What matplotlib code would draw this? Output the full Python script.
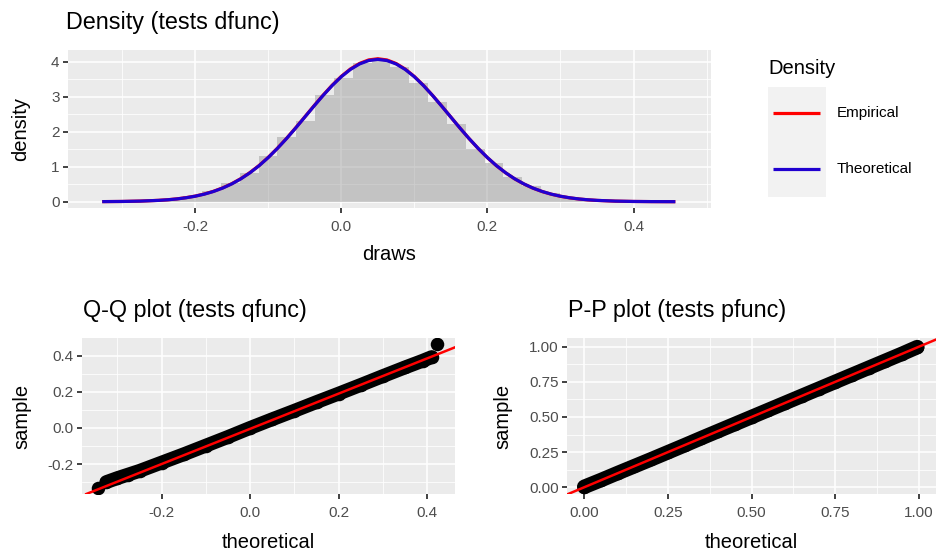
"""
Tres paneles de diagnóstico al estilo ggplot: densidad, Q-Q y P-P.
"""

import matplotlib
matplotlib.use("Agg")
import matplotlib.pyplot as plt

plt.rcParams['font.family'] = ['Liberation Sans', 'DejaVu Sans']

W, H = 938, 556

# --- Datos ---
# histograma: bordes de clase y alturas
hist_bordes = [-0.320, -0.294, -0.268, -0.243, -0.217, -0.191, -0.165, -0.139,
               -0.113, -0.088, -0.062, -0.036, -0.010, 0.016, 0.042, 0.067,
               0.093, 0.119, 0.145, 0.171, 0.197, 0.222, 0.248, 0.274,
               0.300, 0.326, 0.352, 0.377, 0.403, 0.429, 0.455]
hist_densidad = [0.01, 0.02, 0.04, 0.08, 0.17, 0.30, 0.53, 0.82,
                 1.30, 1.86, 2.30, 3.05, 3.55, 3.98, 4.02, 3.85,
                 3.40, 2.85, 2.22, 1.50, 1.12, 0.72, 0.44, 0.24,
                 0.13, 0.06, 0.03, 0.012, 0.005, 0.002]

# curvas de densidad
dens_x = [-0.325, -0.300, -0.275, -0.250, -0.2375, -0.225, -0.2125, -0.200,
          -0.1875, -0.175, -0.1625, -0.150, -0.1375, -0.125, -0.1125, -0.100,
          -0.0875, -0.075, -0.0625, -0.050, -0.0375, -0.025, -0.0125, 0.000,
          0.0125, 0.025, 0.0375, 0.050, 0.0625, 0.075, 0.0875, 0.100,
          0.1125, 0.125, 0.1375, 0.150, 0.1625, 0.175, 0.1875, 0.200,
          0.2125, 0.225, 0.2375, 0.250, 0.2625, 0.275, 0.2875, 0.300,
          0.3125, 0.325, 0.3375, 0.350, 0.375, 0.400, 0.425, 0.455]
dens_teorica = [0.003, 0.007, 0.017, 0.038, 0.055, 0.079, 0.113, 0.157,
                0.216, 0.292, 0.388, 0.508, 0.653, 0.827, 1.029, 1.262,
                1.522, 1.804, 2.106, 2.419, 2.732, 3.037, 3.322, 3.575,
                3.784, 3.941, 4.038, 4.071, 4.038, 3.941, 3.784, 3.575,
                3.322, 3.037, 2.732, 2.419, 2.106, 1.804, 1.522, 1.262,
                1.029, 0.827, 0.653, 0.508, 0.388, 0.292, 0.216, 0.157,
                0.113, 0.079, 0.055, 0.038, 0.017, 0.007, 0.003, 0.001]
dens_empirica = [0.003, 0.007, 0.018, 0.039, 0.056, 0.081, 0.116, 0.160,
                 0.220, 0.297, 0.394, 0.514, 0.660, 0.834, 1.036, 1.268,
                 1.528, 1.810, 2.112, 2.425, 2.740, 3.046, 3.332, 3.586,
                 3.797, 3.956, 4.056, 4.090, 4.055, 3.954, 3.794, 3.582,
                 3.327, 3.040, 2.734, 2.420, 2.106, 1.803, 1.520, 1.260,
                 1.027, 0.825, 0.651, 0.506, 0.386, 0.290, 0.214, 0.155,
                 0.111, 0.078, 0.054, 0.037, 0.016, 0.007, 0.003, 0.001]

# Q-Q
qq_teorico = [-0.343, -0.325, -0.300, -0.275, -0.250, -0.200, -0.150, -0.100,
              -0.050, 0.000, 0.050, 0.100, 0.150, 0.200, 0.250, 0.300,
              0.350, 0.390, 0.410, 0.423]
qq_muestra = [-0.334, -0.300, -0.278, -0.258, -0.238, -0.192, -0.146, -0.098,
              -0.050, 0.000, 0.048, 0.095, 0.143, 0.190, 0.238, 0.287,
              0.335, 0.372, 0.392, 0.464]
qq_pendiente, qq_intercepto = 0.975, -0.005

# P-P
pp_teorico = [0.000, 0.050, 0.100, 0.150, 0.200, 0.250, 0.300, 0.350, 0.400,
              0.450, 0.500, 0.550, 0.600, 0.650, 0.700, 0.750, 0.800, 0.850,
              0.900, 0.950, 0.995]
pp_muestra = [0.003, 0.051, 0.101, 0.150, 0.199, 0.249, 0.299, 0.350, 0.400,
              0.450, 0.500, 0.550, 0.600, 0.650, 0.700, 0.750, 0.800, 0.850,
              0.900, 0.950, 0.997]

# ejes y etiquetas
top_xt, top_xt_lbl = [-0.2, 0.0, 0.2, 0.4], ['-0.2', '0.0', '0.2', '0.4']
top_yt, top_yt_lbl = [0, 1, 2, 3, 4], ['0', '1', '2', '3', '4']
qq_xt, qq_xt_lbl = [-0.2, 0.0, 0.2, 0.4], ['-0.2', '0.0', '0.2', '0.4']
qq_yt, qq_yt_lbl = [-0.2, 0.0, 0.2, 0.4], ['-0.2', '0.0', '0.2', '0.4']
pp_t = [0.0, 0.25, 0.5, 0.75, 1.0]
pp_t_lbl = ['0.00', '0.25', '0.50', '0.75', '1.00']


def estilo_gg(ax, xt, xt_lbl, yt, yt_lbl, xlim, ylim):
    ax.set_facecolor('#EBEBEB')
    ax.set_xticks(xt)
    ax.set_xticklabels(xt_lbl)
    ax.set_yticks(yt)
    ax.set_yticklabels(yt_lbl)
    # menores a medio camino entre mayores
    paso_x = xt[1] - xt[0]
    paso_y = yt[1] - yt[0]
    ax.set_xticks([v - paso_x / 2 for v in xt] + [xt[-1] + paso_x / 2], minor=True)
    ax.set_yticks([v - paso_y / 2 for v in yt] + [yt[-1] + paso_y / 2], minor=True)
    ax.set_xlim(xlim)
    ax.set_ylim(ylim)
    ax.grid(which='major', color='white', lw=1.1)
    ax.grid(which='minor', color='white', lw=0.55)
    ax.set_axisbelow(True)
    for s in ax.spines.values():
        s.set_visible(False)
    ax.tick_params(which='major', length=3.6, width=1.3, color='#333333',
                   labelcolor='#4D4D4D', labelsize=11)
    ax.tick_params(axis='x', pad=5)
    ax.tick_params(axis='y', pad=2.5)
    ax.tick_params(which='minor', length=0)


fig = plt.figure(figsize=(W / 100, H / 100), dpi=100)

# --- Densidad ---
ax_d = fig.add_axes([68 / W, 1 - 208 / H, (711 - 68) / W, (208 - 50) / H])
estilo_gg(ax_d, top_xt, top_xt_lbl, top_yt, top_yt_lbl, (-0.374, 0.506), (-0.18, 4.34))
ax_d.stairs(hist_densidad, hist_bordes, fill=True, color='#8C8C8C', alpha=0.42,
            linewidth=0, zorder=2)
l_emp, = ax_d.plot(dens_x, dens_empirica, color='red', lw=2.3, zorder=3,
                   solid_joinstyle='round')
l_teo, = ax_d.plot(dens_x, dens_teorica, color='#2000D0', lw=2.3, zorder=4,
                   solid_joinstyle='round')
ax_d.set_xlabel('draws', fontsize=14.5, va='center')
ax_d.xaxis.set_label_coords(0.5, -0.295)
ax_d.set_ylabel('density', fontsize=14.5, va='center')
ax_d.yaxis.set_label_coords(-0.073, 0.5)
fig.text(66 / W, 1 - 22 / H, 'Density (tests dfunc)', fontsize=16.8, va='center')

# leyenda manual
ax_leg = fig.add_axes([768 / W, 1 - 197 / H, 58 / W, 110 / H])
ax_leg.set_facecolor('#F2F2F2')
ax_leg.set_xlim(0, 1)
ax_leg.set_ylim(0, 1)
ax_leg.set_xticks([])
ax_leg.set_yticks([])
for s in ax_leg.spines.values():
    s.set_visible(False)
for yk, linea in [(0.764, l_emp), (0.255, l_teo)]:
    ax_leg.plot([0.09, 0.9], [yk, yk], color=linea.get_color(), lw=2.3,
                solid_capstyle='butt')
fig.text(768 / W, 1 - 68 / H, 'Density', fontsize=14.5, va='center')
fig.text(837 / W, 1 - 113 / H, 'Empirical', fontsize=11, va='center')
fig.text(837 / W, 1 - 169 / H, 'Theoretical', fontsize=11, va='center')

# --- Q-Q ---
ax_q = fig.add_axes([82 / W, 1 - 494 / H, (455 - 82) / W, (494 - 338) / H])
estilo_gg(ax_q, qq_xt, qq_xt_lbl, qq_yt, qq_yt_lbl, (-0.380, 0.463), (-0.366, 0.498))
ax_q.plot(qq_teorico[1:-1], qq_muestra[1:-1], color='black', lw=10,
          solid_capstyle='round', zorder=2)
ax_q.scatter(qq_teorico, qq_muestra, s=95, color='black', zorder=3, linewidths=0)
ax_q.axline((0, qq_intercepto), slope=qq_pendiente, color='red', lw=1.8, zorder=4)
ax_q.set_xlabel('theoretical', fontsize=14.5, va='center')
ax_q.xaxis.set_label_coords(0.5, -0.314)
ax_q.set_ylabel('sample', fontsize=14.5, va='center')
ax_q.yaxis.set_label_coords(-0.161, 0.5)
fig.text(83 / W, 1 - 310 / H, 'Q-Q plot (tests qfunc)', fontsize=16.8, va='center')

# --- P-P ---
ax_p = fig.add_axes([567 / W, 1 - 494 / H, (936 - 567) / W, (494 - 338) / H])
estilo_gg(ax_p, pp_t, pp_t_lbl, pp_t, pp_t_lbl, (-0.0515, 1.051), (-0.048, 1.062))
ax_p.plot(pp_teorico, pp_muestra, color='black', lw=10.5, solid_capstyle='round', zorder=2)
ax_p.scatter(pp_teorico, pp_muestra, s=95, color='black', zorder=3, linewidths=0)
ax_p.axline((0, 0), slope=1, color='red', lw=1.8, zorder=4)
ax_p.set_xlabel('theoretical', fontsize=14.5, va='center')
ax_p.xaxis.set_label_coords(0.5, -0.314)
ax_p.set_ylabel('sample', fontsize=14.5, va='center')
ax_p.yaxis.set_label_coords(-0.173, 0.5)
fig.text(568 / W, 1 - 310 / H, 'P-P plot (tests pfunc)', fontsize=16.8, va='center')

fig.savefig('out.png', dpi=100)
